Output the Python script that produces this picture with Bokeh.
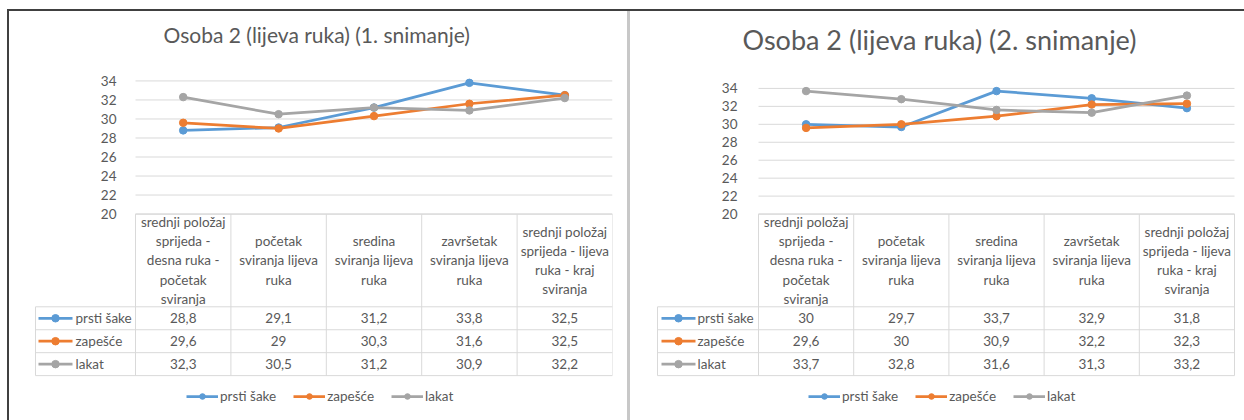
from bokeh.plotting import figure
from bokeh.models import Range1d, LinearAxis, FixedTicker, Legend, LegendItem, Title, Div
from bokeh.layouts import row, column
from bokeh.embed import file_html
from bokeh.resources import INLINE
from bokeh.core.properties import value

# ---------------- data ----------------
CATEGORIES = [
    "srednji položaj\nsprijeda -\ndesna ruka -\npočetak\nsviranja",
    "početak\nsviranja lijeva\nruka",
    "sredina\nsviranja lijeva\nruka",
    "završetak\nsviranja lijeva\nruka",
    "srednji položaj\nsprijeda - lijeva\nruka - kraj\nsviranja",
]
SERIES = ["prsti šake", "zapešće", "lakat"]
COLORS = ["#5B9BD5", "#ED7D31", "#A5A5A5"]

TITLE_1 = "Osoba 2 (lijeva ruka) (1. snimanje)"
PRSTI_1 = [28.8, 29.1, 31.2, 33.8, 32.5]
ZAPESCE_1 = [29.6, 29.0, 30.3, 31.6, 32.5]
LAKAT_1 = [32.3, 30.5, 31.2, 30.9, 32.2]

TITLE_2 = "Osoba 2 (lijeva ruka) (2. snimanje)"
PRSTI_2 = [30.0, 29.7, 33.7, 32.9, 31.8]
ZAPESCE_2 = [29.6, 30.0, 30.9, 32.2, 32.3]
LAKAT_2 = [33.7, 32.8, 31.6, 31.3, 33.2]

Y_TICKS = [20, 22, 24, 26, 28, 30, 32, 34]

# ---------------- style / layout ----------------
FONT = "Lato"
TXT = "#595959"
GRID = "#D9D9D9"
DARK = "#404040"
FIG_TOP, FIG_BOTTOM = 11, 420
FIG_H = FIG_BOTTOM - FIG_TOP
FRAME_TOP = 54
TBL_FONT = "13.5px"


def fmt(v):
    return f"{v:g}".replace(".", ",")


def make_panel(title, series_vals, L):
    n = len(CATEGORIES)
    colw = (L["plot_right"] - L["plot_left"]) / n

    def px2x(px):
        return (px - L["plot_left"]) / colw

    ppu = (L["y20"] - L["y34"]) / (Y_TICKS[-1] - Y_TICKS[0])
    y_end = Y_TICKS[-1] + (L["y34"] - FRAME_TOP) / ppu
    y_start = Y_TICKS[0] - (FIG_BOTTOM - L["y20"]) / ppu

    p = figure(
        width=L["fig_w"], height=FIG_H,
        x_range=Range1d(px2x(L["frame_left"]), px2x(L["frame_right"])),
        y_range=Range1d(y_start, y_end),
        x_axis_type=None, y_axis_type=None,
        output_backend="svg", toolbar_location=None,
        min_border_left=L["frame_left"] - L["fig_left"],
        min_border_right=L["fig_left"] + L["fig_w"] - L["frame_right"],
        min_border_top=FRAME_TOP - FIG_TOP,
        min_border_bottom=0,
        outline_line_color=None,
        background_fill_color="white",
        border_fill_color="white",
    )
    p.extra_y_ranges = {"tbl": Range1d(start=FIG_BOTTOM, end=FRAME_TOP)}

    p.title = Title(text=title, align="left", text_font=FONT,
                    text_font_size=L["title_size"], text_font_style="normal",
                    text_color=TXT, offset=L["title_x"] - L["frame_left"],
                    standoff=L["title_standoff"])

    ax = LinearAxis(ticker=FixedTicker(ticks=Y_TICKS), fixed_location=0,
                    axis_line_color=None, major_tick_line_color=None,
                    minor_tick_line_color=None,
                    major_label_text_font=FONT,
                    major_label_text_font_size="13.5px",
                    major_label_text_color=TXT,
                    major_label_standoff=L["label_standoff"])
    p.add_layout(ax, "left")

    # gridlines
    p.segment(x0=[0] * len(Y_TICKS), x1=[n] * len(Y_TICKS), y0=Y_TICKS, y1=Y_TICKS,
              line_color=GRID, line_width=1)

    # series
    xs = [i + 0.5 for i in range(n)]
    items = []
    for name, vals, col in zip(SERIES, series_vals, COLORS):
        r1 = p.line(xs, vals, line_color=col, line_width=2.75)
        r2 = p.scatter(xs, vals, size=7.5, fill_color=col, line_color=col)
        items.append(LegendItem(label=name, renderers=[r1, r2]))

    # data table
    lab_left = px2x(L["tbl_left"])
    ht, hb = L["tbl_head_top"], L["tbl_head_bot"]
    rh = L["row_h"]
    row_lines = [hb + k * rh for k in range(len(SERIES) + 1)]
    p.segment(x0=[0], x1=[n], y0=[ht], y1=[ht], line_color=GRID, line_width=1, y_range_name="tbl")
    p.segment(x0=[lab_left] * len(row_lines), x1=[n] * len(row_lines),
              y0=row_lines, y1=row_lines, line_color=GRID, line_width=1, y_range_name="tbl")
    p.segment(x0=list(range(n + 1)), x1=list(range(n + 1)),
              y0=[ht] * (n + 1), y1=[row_lines[-1]] * (n + 1),
              line_color=GRID, line_width=1, y_range_name="tbl")
    p.segment(x0=[lab_left], x1=[lab_left], y0=[hb], y1=[row_lines[-1]],
              line_color=GRID, line_width=1, y_range_name="tbl")

    p.text(x=xs, y=[(ht + hb) / 2] * n, text=CATEGORIES,
           text_font=value(FONT), text_font_size=TBL_FONT, text_color=TXT,
           text_align="center", text_baseline="middle", text_line_height=1.2,
           y_range_name="tbl")

    for k, (name, vals, col) in enumerate(zip(SERIES, series_vals, COLORS)):
        yc = hb + (k + 0.5) * rh
        p.text(x=xs, y=[yc] * n, text=[fmt(v) for v in vals],
               text_font=value(FONT), text_font_size=TBL_FONT, text_color=TXT,
               text_align="center", text_baseline="middle", y_range_name="tbl")
        p.segment(x0=[px2x(L["sw_x0"])], x1=[px2x(L["sw_x1"])], y0=[yc], y1=[yc],
                  line_color=col, line_width=2.75, y_range_name="tbl")
        p.scatter(x=[px2x((L["sw_x0"] + L["sw_x1"]) / 2)], y=[yc], size=7.5,
                  fill_color=col, line_color=col, y_range_name="tbl")
        p.text(x=[px2x(L["sw_text"])], y=[yc], text=[name],
               text_font=value(FONT), text_font_size=TBL_FONT, text_color=TXT,
               text_align="left", text_baseline="middle", y_range_name="tbl")

    leg = Legend(items=items, orientation="horizontal",
                 location=(L["leg_x"] - L["frame_left"], L["leg_y"]),
                 padding=0, margin=0, spacing=17, label_standoff=2,
                 glyph_width=32, glyph_height=14, label_height=14,
                 border_line_color=None, background_fill_alpha=0,
                 label_text_font=FONT, label_text_font_size=TBL_FONT,
                 label_text_color=TXT)
    p.add_layout(leg)
    return p


L1 = dict(fig_left=9, fig_w=618, frame_left=34, frame_right=612,
          plot_left=135, plot_right=612, y34=79.5, y20=213,
          title_size="21px", title_x=163, title_standoff=17, label_standoff=13,
          tbl_left=35, tbl_head_top=213, tbl_head_bot=306, row_h=23,
          sw_x0=38, sw_x1=72, sw_text=75, leg_x=186, leg_y=16)
L2 = dict(fig_left=630, fig_w=614, frame_left=656, frame_right=1236,
          plot_left=758, plot_right=1234, y34=87, y20=213,
          title_size="27px", title_x=742, title_standoff=0, label_standoff=15,
          tbl_left=657, tbl_head_top=213, tbl_head_bot=306, row_h=23,
          sw_x0=661, sw_x1=695, sw_text=697, leg_x=808, leg_y=16)

p1 = make_panel(TITLE_1, [PRSTI_1, ZAPESCE_1, LAKAT_1], L1)
p2 = make_panel(TITLE_2, [PRSTI_2, ZAPESCE_2, LAKAT_2], L2)


def bar(w, h, color):
    return Div(text="", width=w, height=h, margin=0, styles={"background-color": color})


top_blank = bar(1244, 9, "white")
top_line = row(bar(7, 2, "white"), bar(1237, 2, DARK), spacing=0)
body = row(bar(7, FIG_H, "white"), bar(2, FIG_H, DARK), p1,
           bar(3, FIG_H, "#C8C8C8"), p2, spacing=0)

layout = column(top_blank, top_line, body, spacing=0)

open("out.html", "w").write(file_html(layout, INLINE))
